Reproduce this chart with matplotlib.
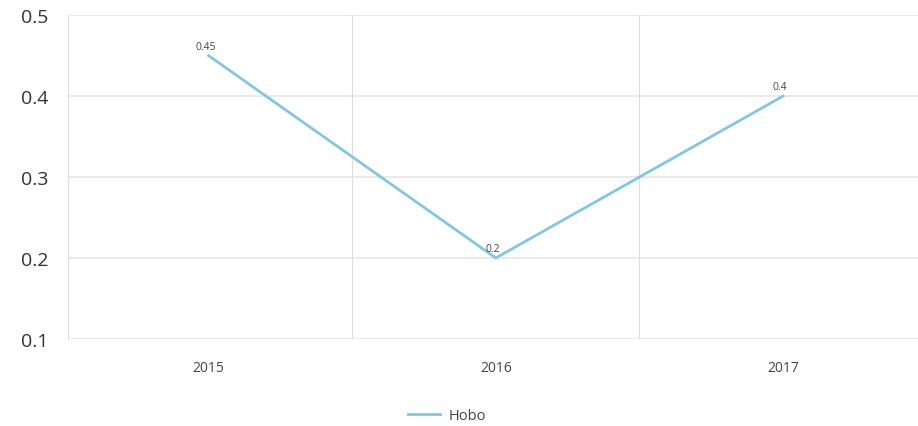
import matplotlib
matplotlib.use("Agg")
import matplotlib.pyplot as plt
from matplotlib.lines import Line2D

plt.rcParams['font.family'] = ['Open Sans', 'DejaVu Sans']

years = ["2015", "2016", "2017"]
hobo = [0.45, 0.2, 0.4]
y_ticks = [0.1, 0.2, 0.3, 0.4, 0.5]

fig = plt.figure(figsize=(9.18, 4.27), dpi=100)
ax = fig.add_axes([0.074, 0.204, 0.926, 0.758])

x = range(len(years))
ax.plot(x, hobo, color="#86c5e0", lw=2)
for i, v in zip(x, hobo):
    ax.annotate(f"{v:g}", (i, v), xytext=(-2, 3), textcoords="offset points",
                ha="center", va="bottom", fontsize=7.5, color="#444444")

ax.set_xlim(-0.49, 2.47)
ax.set_ylim(0.1, 0.5)
ax.set_yticks(y_ticks)
ax.set_yticklabels([f"{t:g}" for t in y_ticks])
ax.set_xticks(list(x))
ax.set_xticklabels(years)

# horizontal grid
for t in y_ticks:
    ax.axhline(t, color="#e6e6e6", lw=1.2, zorder=0)
# vertical separators between categories
for b in [-0.49, 0.5, 1.5]:
    ax.axvline(b, color="#dddddd", lw=0.8, zorder=0)

for s in ax.spines.values():
    s.set_visible(False)
ax.tick_params(axis="y", length=0, pad=14, labelsize=14, labelcolor="#333333")
ax.tick_params(axis="x", length=0, pad=15, labelsize=10, labelcolor="#444444")

handle = [Line2D([], [], color="#86c5e0", lw=2)]
fig.legend(handle, ["Hobo"], loc="center", bbox_to_anchor=(0.487, 0.025),
           frameon=False, fontsize=10.5, handlelength=2.2, handletextpad=0.6,
           labelcolor="#444444")

fig.savefig("out.png", dpi=100)
